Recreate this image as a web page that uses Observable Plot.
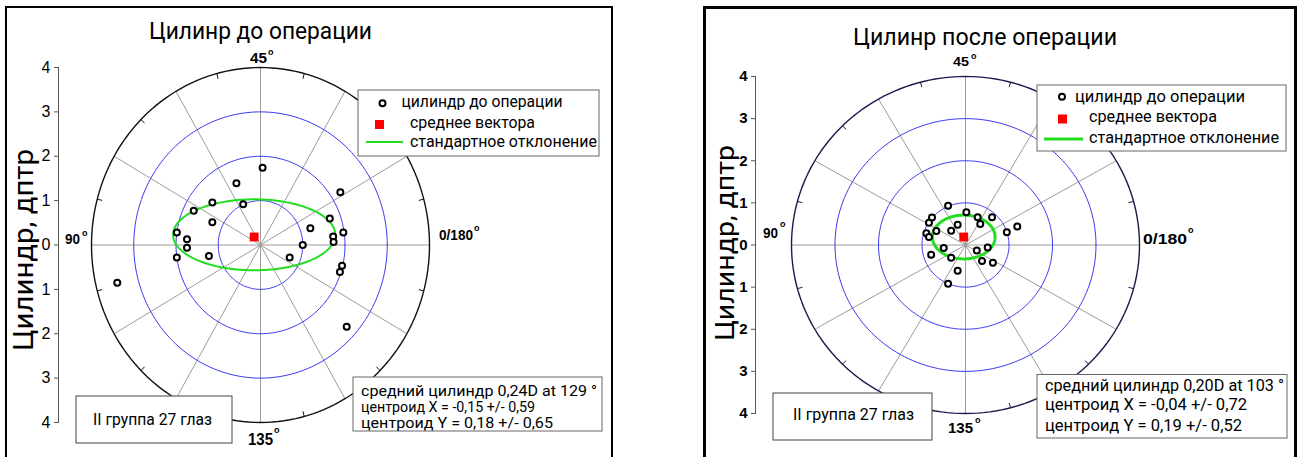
<!DOCTYPE html>
<html>
<head>
<meta charset="utf-8">
<script src="https://cdn.jsdelivr.net/npm/d3@7"></script>
<script src="https://cdn.jsdelivr.net/npm/@observablehq/plot@0.6"></script>
<style>
  body { margin: 0; background: #fff; }
  #wrap { position: relative; width: 1302px; height: 457px; overflow: hidden; background: #fff; }
  #wrap > svg { position: absolute; top: 0; }
</style>
</head>
<body>
<div id="wrap"></div>
<script>
// Cylinder vectors before surgery (double-angle plot, dioptres)
const beforeX = [0.05, -0.57, 1.89, -1.14, -0.41, -1.58, 1.64, -1.14, 1.18, -1.98, 1.96, 1.72, 1.73, -1.74, -1.74, 1.00, -1.98, -1.22, 0.69, 1.93, 1.88, -3.39, 2.04];
const beforeY = [1.74, 1.39, 1.19, 0.96, 0.92, 0.77, 0.60, 0.51, 0.38, 0.28, 0.28, 0.19, 0.07, 0.13, -0.06, 0.00, -0.28, -0.25, -0.28, -0.47, -0.61, -0.85, -1.84];
// Cylinder vectors after surgery
const afterX = [-0.40, 0.02, -0.77, -0.84, 0.28, 0.61, 0.34, -0.18, -0.33, -0.67, -0.90, -0.84, 0.95, 1.19, -0.50, -0.79, -0.33, 0.26, 0.51, 0.38, 0.63, -0.18, -0.40];
const afterY = [0.93, 0.78, 0.65, 0.53, 0.66, 0.66, 0.50, 0.48, 0.34, 0.33, 0.28, 0.19, 0.30, 0.44, -0.07, -0.23, -0.30, -0.13, -0.06, -0.38, -0.42, -0.61, -0.92];

// Mean vectors (centroids) and standard-deviation ellipses
const beforeMean = { x: -0.15, y: 0.18 };
const afterMean = { x: -0.04, y: 0.19 };
const beforeEllipse = { cx: -0.15, cy: 0.23, rx: 1.92, ry: 0.80 };
const afterEllipse = { cx: -0.04, cy: 0.19, rx: 0.72, ry: 0.52 };

// Polar grid
const ringRadii = [1, 2, 3];
const outerRadius = 4;
const radialTicks = [-4, -3, -2, -1, 0, 1, 2, 3, 4];
const spokeAngles = [0, 30, 60, 90, 120, 150, 180, 210, 240, 270, 300, 330];
const minorAngles = [15, 45, 75, 105, 135, 165, 195, 225, 255, 285, 315, 345];

// Text
const titles = ["Цилинр до операции", "Цилинр после операции"];
const axisTitle = "Цилиндр, дптр";
const angleNames = ["45", "90", "135", "0/180"];
const legendNames = ["цилиндр до операции", "среднее вектора", "стандартное отклонение"];
const groupLabel = "II группа 27 глаз";
const statsBefore = ["средний цилиндр 0,24D at 129 °", "центроид X = -0,15 +/- 0,59", "центроид Y = 0,18 +/- 0,65"];
const statsAfter = ["средний цилиндр 0,20D at 103 °", "центроид X = -0,04 +/- 0,72", "центроид Y = 0,19 +/- 0,52"];

const SANS = "Roboto, 'Open Sans', sans-serif";
const ARIAL = "'Liberation Sans', Arial, sans-serif";
const GREEN = "#22dd22";
const rad = (a) => a * Math.PI / 180;

const ring = (r) => d3.range(0, 362, 2).map((a) => ({ r, x: r * Math.cos(rad(a)), y: r * Math.sin(rad(a)) }));
const ellipsePts = (e) => d3.range(0, 362, 2).map((a) => ({ x: e.cx + e.rx * Math.cos(rad(a)), y: e.cy + e.ry * Math.sin(rad(a)) }));

function polarPanel(p) {
  const pts = p.xs.map((x, i) => ({ x, y: p.ys[i] }));
  return Plot.plot({
    width: p.width,
    height: 457,
    marginLeft: p.axisX - p.left,
    marginRight: 0,
    marginTop: p.top4,
    marginBottom: 457 - p.bottom4,
    x: { domain: [-outerRadius, outerRadius], range: [p.cx - p.left - p.rx, p.cx - p.left + p.rx], axis: null },
    y: { domain: [-outerRadius, outerRadius] },
    style: { fontFamily: ARIAL, background: "transparent", overflow: "visible", color: "#111" },
    marks: [
      Plot.link(spokeAngles, {
        x1: () => 0, y1: () => 0,
        x2: (a) => outerRadius * Math.cos(rad(a)), y2: (a) => outerRadius * Math.sin(rad(a)),
        stroke: "#9c9c9c", strokeWidth: 1
      }),
      Plot.line(ringRadii.flatMap(ring), { x: "x", y: "y", z: "r", stroke: "#3a3af2", strokeWidth: 1 }),
      Plot.line(ring(outerRadius), { x: "x", y: "y", stroke: p.outerColor, strokeWidth: 1.4 }),
      Plot.link(minorAngles, {
        x1: (a) => 3.88 * Math.cos(rad(a)), y1: (a) => 3.88 * Math.sin(rad(a)),
        x2: (a) => outerRadius * Math.cos(rad(a)), y2: (a) => outerRadius * Math.sin(rad(a)),
        stroke: p.outerColor, strokeWidth: 1
      }),
      Plot.frame({ anchor: "left", stroke: "#555" }),
      Plot.axisY({
        anchor: "left", ticks: radialTicks, tickFormat: (d) => Math.abs(d),
        tickSize: 4, tickPadding: 4, fontSize: p.tickFont, fontWeight: p.tickWeight,
        label: null, stroke: "#555", fill: "#000"
      }),
      Plot.line(ellipsePts(p.ell), { x: "x", y: "y", stroke: GREEN, strokeWidth: p.ellWidth }),
      Plot.dot(pts, { x: "x", y: "y", r: 3, stroke: "#000", strokeWidth: 2, fill: "white" }),
      Plot.dot([p.mean], { x: "x", y: "y", symbol: "square", r: 5, fill: "red", stroke: "none" })
    ]
  });
}

const wrap = document.getElementById("wrap");

const leftPlot = polarPanel({
  left: 0, width: 650, cx: 260, rx: 169, axisX: 58, top4: 67, bottom4: 422,
  xs: beforeX, ys: beforeY, mean: beforeMean, ell: beforeEllipse,
  outerColor: "#111", ellWidth: 2, tickFont: 16, tickWeight: "normal"
});
leftPlot.style.left = "0px";
wrap.appendChild(leftPlot);

const rightPlot = polarPanel({
  left: 650, width: 652, cx: 965, rx: 174, axisX: 755, top4: 76, bottom4: 413,
  xs: afterX, ys: afterY, mean: afterMean, ell: afterEllipse,
  outerColor: "#1b1b4d", ellWidth: 3, tickFont: 15, tickWeight: "bold"
});
rightPlot.style.left = "650px";
wrap.appendChild(rightPlot);

// Frames, titles, legends and annotation boxes
const svg = d3.select(wrap).append("svg")
  .attr("width", 1302).attr("height", 457)
  .style("left", "0px").style("pointer-events", "none");

function text(str, x, y, size, o = {}) {
  const e = svg.append("text")
    .attr("x", x).attr("y", y)
    .attr("font-size", size)
    .attr("font-family", o.family || SANS)
    .attr("font-weight", o.weight || "normal")
    .attr("fill", o.fill || "#000")
    .text(str);
  if (o.w) e.attr("textLength", o.w).attr("lengthAdjust", "spacingAndGlyphs");
  if (o.anchor) e.attr("text-anchor", o.anchor);
  if (o.transform) e.attr("transform", o.transform);
  return e;
}
function box(x, y, w, h, stroke = "#666", sw = 1) {
  svg.append("rect").attr("x", x).attr("y", y).attr("width", w).attr("height", h)
    .attr("fill", "white").attr("stroke", stroke).attr("stroke-width", sw);
}
function frame(x, y, w, h, sw) {
  svg.append("rect").attr("x", x).attr("y", y).attr("width", w).attr("height", h)
    .attr("fill", "none").attr("stroke", "#000").attr("stroke-width", sw);
}
function angleLabel(str, x, base, size, w, ox, oy) {
  text(str, x, base, size, { family: ARIAL, weight: "bold", w });
  text("o", ox, oy, 9, { family: ARIAL, weight: "bold" });
}
function legend(b, items) {
  box(b.x, b.y, b.w, b.h);
  svg.append("circle").attr("cx", items.cx).attr("cy", items.cy).attr("r", 3)
    .attr("fill", "white").attr("stroke", "#000").attr("stroke-width", 2);
  svg.append("rect").attr("x", items.sq[0]).attr("y", items.sq[1]).attr("width", 9).attr("height", 9).attr("fill", "red");
  svg.append("line").attr("x1", items.ln[0]).attr("x2", items.ln[1]).attr("y1", items.ln[2]).attr("y2", items.ln[2])
    .attr("stroke", GREEN).attr("stroke-width", items.ln[3]);
  items.t.forEach((t, i) => text(legendNames[i], t[0], t[1], items.size, { w: t[2] }));
}

// Panel frames
frame(6, 7, 606, 470, 2);
frame(704.5, 7.5, 591, 470, 3);

// Left panel
text(titles[0], 149, 39, 24, { w: 223 });
text(axisTitle, 0, 0, 28, { w: 202, anchor: "middle", transform: "translate(33,250) rotate(-90)" });
angleLabel(angleNames[0], 250, 63, 14, 17, 268, 55);
angleLabel(angleNames[1], 65, 244, 14, 15, 82, 236);
angleLabel(angleNames[2], 248, 445, 16, 25, 274, 433);
angleLabel(angleNames[3], 439, 240, 14, 34, 474, 231);
legend({ x: 358, y: 90, w: 241, h: 66 }, {
  cx: 382.5, cy: 103.3, sq: [375, 120], ln: [366, 403, 142, 2], size: 16,
  t: [[401.5, 107, 161], [410, 127.5, 125], [410, 146.5, 187]]
});
box(353, 377, 249, 54);
text(statsBefore[0], 361, 396, 15, { w: 236 });
text(statsBefore[1], 361, 412, 15, { w: 174 });
text(statsBefore[2], 361, 428, 15, { w: 192 });
box(76, 396, 156, 47, "#444");
text(groupLabel, 93, 425, 16, { w: 119 });

// Right panel
text(titles[1], 853, 45, 24, { w: 264 });
text(axisTitle, 0, 0, 26, { w: 196, anchor: "middle", transform: "translate(734,243) rotate(-90)" });
angleLabel(angleNames[0], 953, 66, 13.5, 16, 971, 59);
angleLabel(angleNames[1], 763, 238, 14, 15, 780, 227);
angleLabel(angleNames[2], 948, 433, 14, 25, 975, 423);
angleLabel(angleNames[3], 1143, 244, 14, 44, 1188, 233);
legend({ x: 1037, y: 85, w: 249, h: 66 }, {
  cx: 1062, cy: 96.7, sq: [1058, 114.5], ln: [1044, 1083, 139, 3], size: 17,
  t: [[1075, 102, 170], [1089, 122, 128], [1089, 143, 190]]
});
box(1037, 374.5, 250, 63.5);
text(statsAfter[0], 1045, 391, 16.5, { w: 239 });
text(statsAfter[1], 1045, 410, 16.5, { w: 202 });
text(statsAfter[2], 1045, 430.5, 16.5, { w: 197 });
box(773, 393, 159, 47, "#444");
text(groupLabel, 793, 420, 16.5, { w: 121 });
</script>
</body>
</html>
